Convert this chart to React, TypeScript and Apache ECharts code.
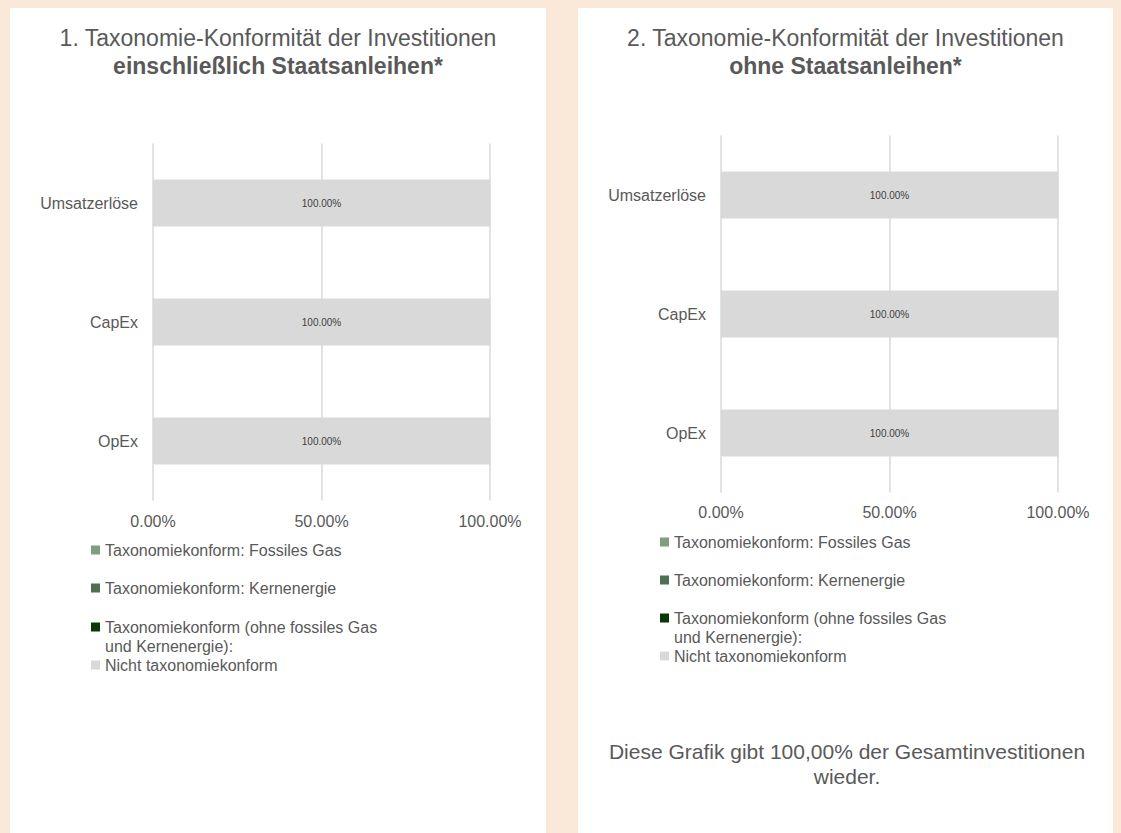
import React, { useEffect, useRef } from "react";
import * as echarts from "echarts";

// ---- data ----
const categories = ["Umsatzerlöse", "CapEx", "OpEx"];
const xTicks = [0, 50, 100];

const seriesNames = [
  "Taxonomiekonform: Fossiles Gas",
  "Taxonomiekonform: Kernenergie",
  "Taxonomiekonform (ohne fossiles Gas und Kernenergie):",
  "Nicht taxonomiekonform",
];
const legendLabels = [
  "Taxonomiekonform: Fossiles Gas",
  "Taxonomiekonform: Kernenergie",
  "\nTaxonomiekonform (ohne fossiles Gas\nund Kernenergie):",
  "Nicht taxonomiekonform",
];
const seriesColors = ["#7f9e7f", "#4e7152", "#083808", "#d9d9d9"];

// panel 1: including sovereign bonds
const inclFossilGas = [0, 0, 0];
const inclNuclear = [0, 0, 0];
const inclAligned = [0, 0, 0];
const inclNotAligned = [100, 100, 100];

// panel 2: excluding sovereign bonds
const exclFossilGas = [0, 0, 0];
const exclNuclear = [0, 0, 0];
const exclAligned = [0, 0, 0];
const exclNotAligned = [100, 100, 100];

const titles1 = ["1. Taxonomie-Konformität der Investitionen", "einschließlich Staatsanleihen*"];
const titles2 = ["2. Taxonomie-Konformität der Investitionen", "ohne Staatsanleihen*"];
const footerText = "Diese Grafik gibt 100,00% der Gesamtinvestitionen\nwieder.";

const FONT = "'Liberation Sans', Arial, Helvetica, sans-serif";
const TEXT = "#595959";

export default function App() {
  const ref = useRef<HTMLDivElement>(null);

  useEffect(() => {
    if (!ref.current) return;
    const chart = echarts.init(ref.current, null, { renderer: "svg" });

    const panels = [
      { grid: { left: 153, top: 143.5, width: 337, height: 357 }, margin: 13, values: [inclFossilGas, inclNuclear, inclAligned, inclNotAligned], cx: 278, legendLeft: 91, legendCenters: [550, 588, 627, 665], titles: titles1 },
      { grid: { left: 721, top: 135.5, width: 337, height: 357 }, margin: 12, values: [exclFossilGas, exclNuclear, exclAligned, exclNotAligned], cx: 845.5, legendLeft: 660, legendCenters: [542, 580, 618, 656], titles: titles2 },
    ];

    const fmtPct = (v: number) => v.toFixed(2) + "%";

    const option: any = {
      animation: false,
      backgroundColor: "#FAE8D8",
      textStyle: { fontFamily: FONT },
      title: panels.map((p) => ({
        text: `{a|${p.titles[0]}}\n{b|${p.titles[1]}}`,
        left: p.cx,
        top: 24,
        textAlign: "center",
        padding: 0,
        textStyle: {
          fontWeight: "normal",
          rich: {
            a: { fontSize: 23, color: TEXT, fontFamily: FONT, fontWeight: "normal", lineHeight: 28 },
            b: { fontSize: 23, color: TEXT, fontFamily: FONT, fontWeight: "bold", lineHeight: 28 },
          },
        },
      })),
      graphic: [
        { type: "rect", z: -10, shape: { x: 10, y: 8, width: 536, height: 840 }, style: { fill: "#ffffff" } },
        { type: "rect", z: -10, shape: { x: 578, y: 8, width: 535, height: 840 }, style: { fill: "#ffffff" } },
        {
          type: "text",
          z: 10,
          x: 847,
          y: 739,
          style: {
            text: footerText,
            align: "center",
            verticalAlign: "top",
            fontSize: 21,
            lineHeight: 25,
            fontFamily: FONT,
            fill: TEXT,
          },
        },
      ],
      grid: panels.map((p) => ({ ...p.grid, containLabel: false })),
      xAxis: panels.map((p, i) => ({
        type: "value",
        gridIndex: i,
        min: xTicks[0],
        max: xTicks[xTicks.length - 1],
        interval: xTicks[1] - xTicks[0],
        axisLine: { show: false },
        axisTick: { show: false },
        axisLabel: { formatter: fmtPct, fontSize: 16, color: TEXT, fontFamily: FONT, margin: p.margin },
        splitLine: { show: true, lineStyle: { color: "#d9d9d9", width: 1.5 } },
      })),
      yAxis: panels.map((p, i) => ({
        type: "category",
        gridIndex: i,
        data: categories,
        inverse: true,
        axisLine: { show: false },
        axisTick: { show: false },
        axisLabel: { fontSize: 16, color: TEXT, fontFamily: FONT, margin: 15 },
        splitLine: { show: false },
      })),
      legend: panels.flatMap((p) =>
        seriesNames.map((name, k) => ({
          left: p.legendLeft,
          top: k === 2 ? p.legendCenters[k] - 28.5 : p.legendCenters[k] - 9.5,
          orient: "vertical",
          itemWidth: 9,
          itemHeight: 9,
          itemGap: 0,
          padding: 0,
          selectedMode: false,
          data: [{ name, icon: "rect" }],
          formatter: () => legendLabels[k],
          textStyle: {
            fontSize: 16,
            color: TEXT,
            fontFamily: FONT,
            lineHeight: 19,
          },
        }))
      ),
      series: panels.flatMap((p, i) =>
        seriesNames.map((name, k) => ({
          name,
          type: "bar",
          xAxisIndex: i,
          yAxisIndex: i,
          stack: "s" + i,
          barWidth: 47,
          data: p.values[k],
          itemStyle: { color: seriesColors[k] },
          label: {
            show: k === 3,
            position: "inside",
            formatter: (d: any) => fmtPct(d.value),
            fontSize: 10,
            color: "#404040",
            fontFamily: FONT,
          },
        }))
      ),
    };

    chart.setOption(option);
    return () => chart.dispose();
  }, []);

  return (
    <div
      ref={ref}
      style={{ position: "absolute", left: 0, top: 0, width: 1121, height: 833 }}
    />
  );
}
